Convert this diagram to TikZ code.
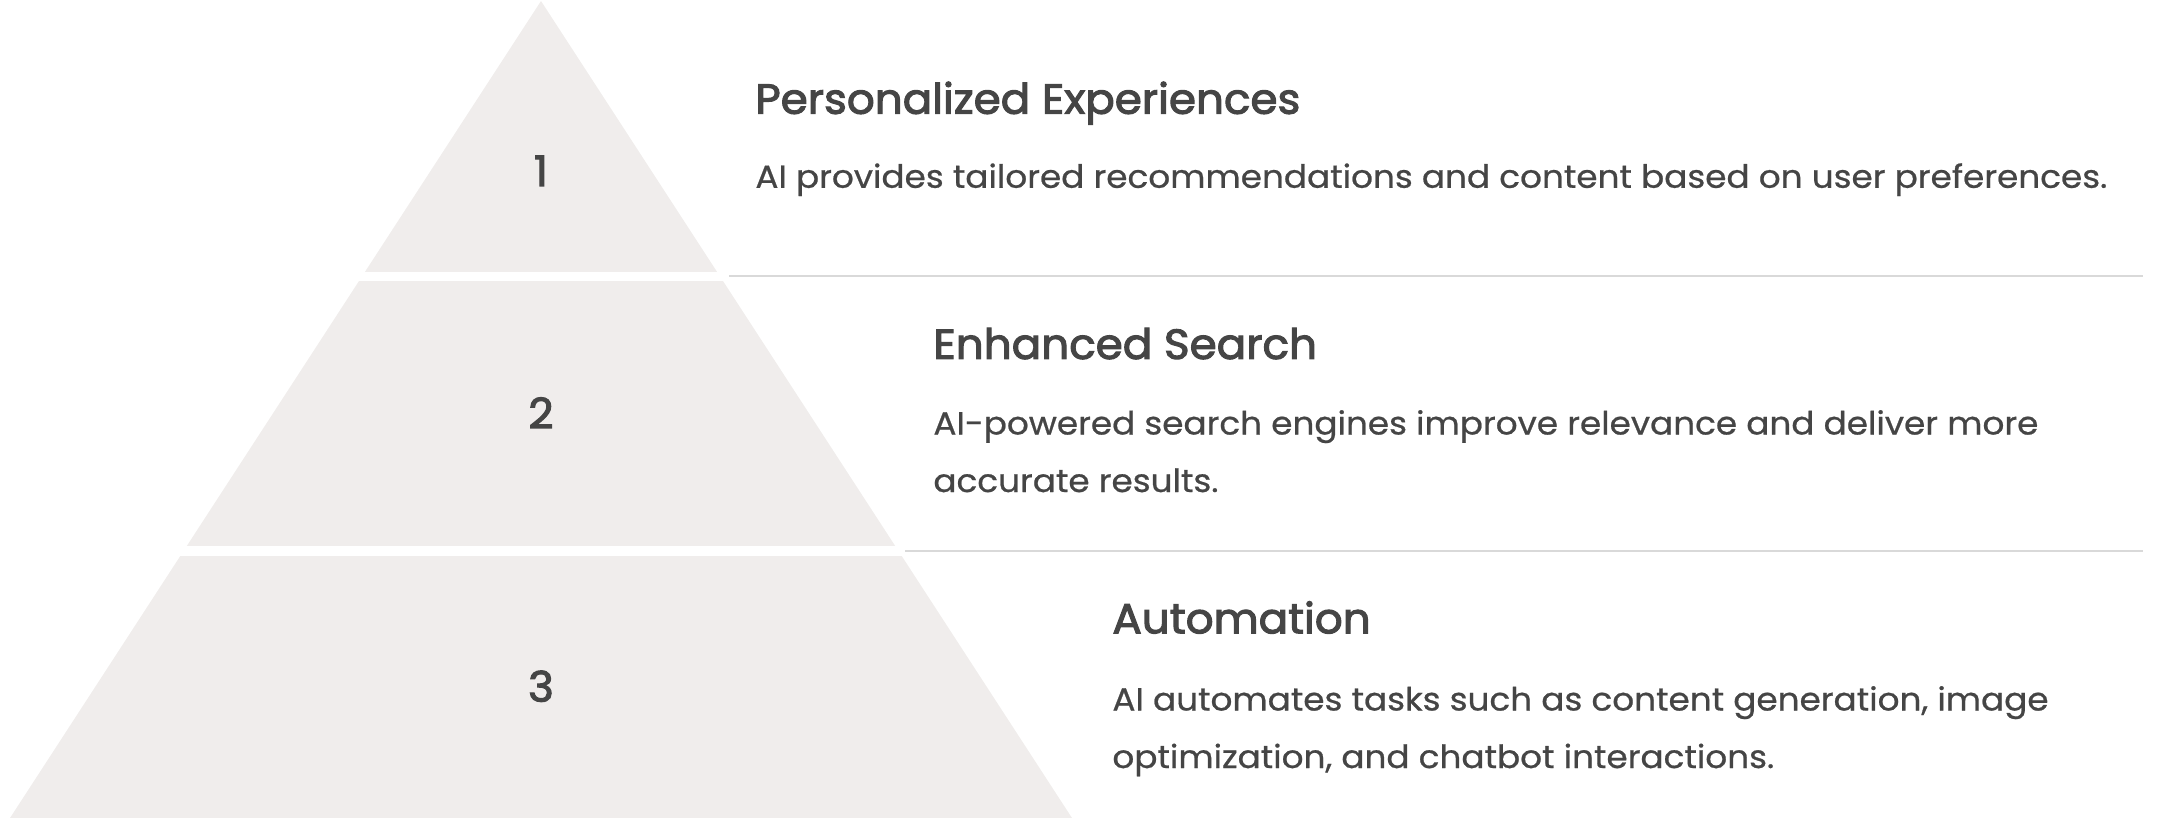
\documentclass[tikz,border=0pt]{standalone}
\usepackage{fontspec}
\setmainfont{Poppins}[FakeStretch=1.07, FakeBold=0.7]
\newfontfamily\headfont{Poppins}[FakeBold=2.6, FakeStretch=1.04]
\definecolor{tiergray}{HTML}{F0EDEC}
\definecolor{inkgray}{HTML}{454545}
\definecolor{rulegray}{HTML}{D9D9D9}
\tikzset{
  tierfill/.style={fill=tiergray},
  tiernum/.style={anchor=base, inner sep=0pt, text=inkgray, font=\headfont\fontsize{21}{21}\selectfont},
  headline/.style={anchor=base west, inner sep=0pt, text=inkgray, font=\headfont\fontsize{21}{21}\selectfont},
  bodyline/.style={anchor=base west, inner sep=0pt, text=inkgray, font=\fontsize{16}{28.75}\selectfont},
  sepline/.style={draw=rulegray, line width=1pt}
}

\begin{document}
\begin{tikzpicture}[x=0.5pt,y=-0.5pt]
\useasboundingbox (0,0) rectangle (2157,818);
%
% pyramid: one triangle, cut into three tiers by white gaps
\begin{scope}
\clip (541,1) -- (1072,818) -- (10,818) -- cycle;
\foreach \top/\bot in {1/272, 281.5/546, 555.5/818}
  \fill[tierfill] (0,\top) rectangle (1100,\bot);
\end{scope}
%
\node[tiernum] (n1) at (541,186) {1};
\node[tiernum] (n2) at (541,428.3) {2};
\node[tiernum] (n3) at (541,701.6) {3};
%
% tier texts
\node[headline] (h1) at (755,113.7) {Personalized Experiences};
\node[bodyline] (b1) at (755,187.8) {AI provides tailored recommendations and content based on user preferences.};
\node[headline] (h2) at (933,358.9) {Enhanced Search};
\node[bodyline] (b2) at (933,434.5) {AI-powered search engines improve relevance and deliver more};
\node[bodyline] (b2b) at (933,492) {accurate results.};
\node[headline] (h3) at (1112,633.3) {Automation};
\node[bodyline] (b3) at (1112,710.5) {AI automates tasks such as content generation, image};
\node[bodyline] (b3b) at (1112,768) {optimization, and chatbot interactions.};
%
% separators
\coordinate (s1a) at (729,276.5);
\coordinate (s1b) at (2143,276.5);
\coordinate (s2a) at (905,551);
\coordinate (s2b) at (2143,551);
\draw[sepline] (s1a) -- (s1b);
\draw[sepline] (s2a) -- (s2b);
\end{tikzpicture}
\end{document}
